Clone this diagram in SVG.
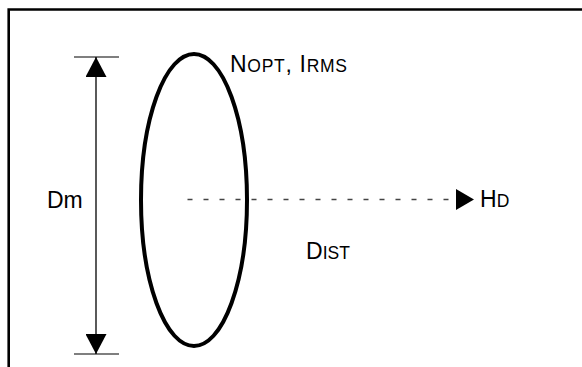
<svg xmlns="http://www.w3.org/2000/svg" width="582" height="367" viewBox="0 0 582 367">
<style>
.t{font-family:"Liberation Sans",Arial,sans-serif;font-size:23px;fill:#000}
.s{font-size:17.5px}
.thin{stroke:#000;stroke-width:1.3;fill:none}
.tick{stroke:#555;stroke-width:1.6}
</style>
<defs>
<marker id="av" markerWidth="21" markerHeight="21" refX="20" refY="10.5" orient="auto" markerUnits="userSpaceOnUse">
<path d="M0,0 L20,10.5 L0,21 Z" fill="#000"/>
</marker>
<marker id="ah" markerWidth="21" markerHeight="21" refX="18" refY="10.5" orient="auto" markerUnits="userSpaceOnUse">
<path d="M0,0 L18,10.5 L0,21 Z" fill="#000"/>
</marker>
</defs>
<rect width="582" height="367" fill="#fff"/>
<path d="M8.7,367 V9.5 H582" fill="none" stroke="#000" stroke-width="2.6"/>
<g id="ellipse">
<ellipse cx="194" cy="200" rx="53" ry="146" fill="none" stroke="#000" stroke-width="4"/>
</g>
<g id="connectors">
<line class="tick" x1="74" y1="57" x2="119" y2="57"/>
<line class="tick" x1="74" y1="354" x2="119" y2="354"/>
<line class="thin" x1="96" y1="200" x2="96" y2="57" marker-end="url(#av)"/>
<line class="thin" x1="96" y1="200" x2="96" y2="354" marker-end="url(#av)"/>
<line x1="187.5" y1="199.5" x2="474" y2="199.5" stroke="#444" stroke-width="1.3" stroke-dasharray="5,11" marker-end="url(#ah)"/>
</g>
<g id="labels">
<text class="t" x="230" y="72" textLength="117" lengthAdjust="spacing">N<tspan class="s">OPT</tspan>, I<tspan class="s">RMS</tspan></text>
<text class="t" x="47" y="208">Dm</text>
<text class="t" x="480" y="207">H<tspan class="s">D</tspan></text>
<text class="t" x="306" y="259">D<tspan class="s">IST</tspan></text>
</g>
</svg>
